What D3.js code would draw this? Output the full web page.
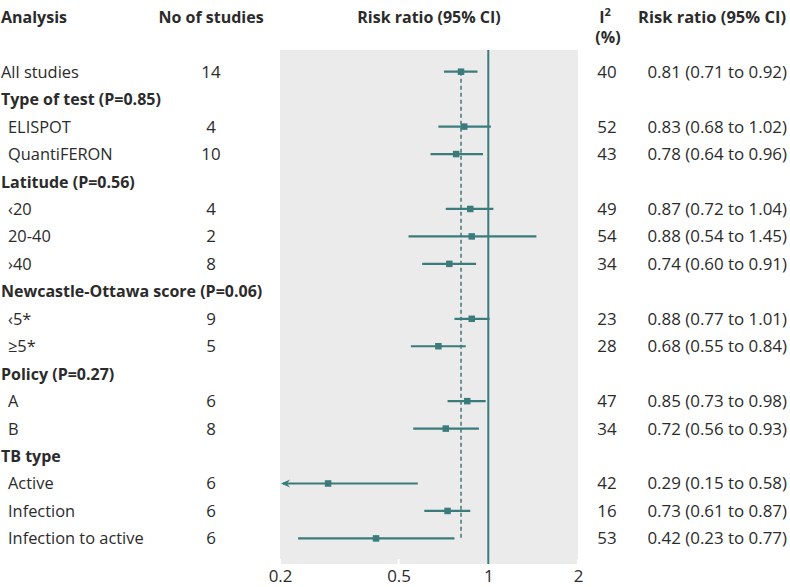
<!DOCTYPE html>
<html>
<head>
<meta charset="utf-8">
<script src="https://cdn.jsdelivr.net/npm/d3@7"></script>
<style>
  html, body { margin: 0; padding: 0; background: #fff; }
  svg { display: block; }
  text { font-family: "Open Sans", "Noto Sans", sans-serif; fill: #2b2b2b; }
</style>
</head>
<body>
<svg id="chart" width="790" height="587"></svg>
<script>
// ---- data ----
const labels = ["All studies", "Type of test (P=0.85)", "ELISPOT", "QuantiFERON",
  "Latitude (P=0.56)", "\u203920", "20-40", "\u203A40",
  "Newcastle-Ottawa score (P=0.06)", "\u20395*", "\u22655*",
  "Policy (P=0.27)", "A", "B", "TB type", "Active", "Infection", "Infection to active"];
const rowTypes = ["overall", "group", "sub", "sub", "group", "sub", "sub", "sub",
  "group", "sub", "sub", "group", "sub", "sub", "group", "sub", "sub", "sub"];
const nStudies = [14, null, 4, 10, null, 4, 2, 8, null, 9, 5, null, 6, 8, null, 6, 6, 6];
const i2 = [40, null, 52, 43, null, 49, 54, 34, null, 23, 28, null, 47, 34, null, 42, 16, 53];
const rr = [0.81, null, 0.83, 0.78, null, 0.87, 0.88, 0.74, null, 0.88, 0.68, null, 0.85, 0.72, null, 0.29, 0.73, 0.42];
const lo = [0.71, null, 0.68, 0.64, null, 0.72, 0.54, 0.60, null, 0.77, 0.55, null, 0.73, 0.56, null, 0.15, 0.61, 0.23];
const hi = [0.92, null, 1.02, 0.96, null, 1.04, 1.45, 0.91, null, 1.01, 0.84, null, 0.98, 0.93, null, 0.58, 0.87, 0.77];
const ticks = [0.2, 0.5, 1, 2];
const overallRR = 0.81;

// ---- layout ----
const teal = "#3b7b7b";
const svg = d3.select("#chart");
const fsReg = 16.4, fsBold = 16, fsNum = 16.9;

const x = d3.scaleLog().domain([0.2, 2]).range([280, 578]);
const y = d3.scaleLinear().domain([0, labels.length - 1]).range([71.7, 538.4]);
const panelTop = 50, panelBottom = 564;

// panel
svg.append("rect").attr("x", x(0.2)).attr("y", panelTop)
  .attr("width", x(2) - x(0.2)).attr("height", panelBottom - panelTop)
  .attr("fill", "#ebebeb");

// white tick marks inside bottom of panel
svg.selectAll("line.wtick").data(ticks).enter().append("line")
  .attr("x1", d => x(d)).attr("x2", d => x(d))
  .attr("y1", panelBottom - 5).attr("y2", panelBottom)
  .attr("stroke", "#fff").attr("stroke-width", 2);

// axis
const axis = d3.axisBottom(x).tickValues(ticks).tickFormat(d3.format("")).tickSize(0).tickPadding(6);
const ax = svg.append("g").attr("transform", `translate(0,${panelBottom})`).call(axis);
ax.select(".domain").remove();
ax.selectAll("text").style("font-family", '"Open Sans", sans-serif').style("font-size", fsNum + "px").attr("fill", "#2b2b2b");

// reference line at 1
svg.append("line").attr("x1", x(1)).attr("x2", x(1)).attr("y1", panelTop).attr("y2", panelBottom)
  .attr("stroke", teal).attr("stroke-width", 2);

// dashed overall line
svg.append("line").attr("x1", x(overallRR)).attr("x2", x(overallRR))
  .attr("y1", y(0)).attr("y2", y(labels.length - 1))
  .attr("stroke", "#3a6d6d").attr("stroke-width", 1.4).attr("stroke-dasharray", "4,3");

// rows data
const rows = labels.map((l, i) => ({ i, label: l, type: rowTypes[i], n: nStudies[i], i2: i2[i], rr: rr[i], lo: lo[i], hi: hi[i] }));
const est = rows.filter(d => d.rr != null);
const [dmin, dmax] = x.domain();

// CI lines
svg.selectAll("line.ci").data(est).enter().append("line")
  .attr("x1", d => x(Math.max(d.lo, dmin)) + (d.lo < dmin ? 3 : 0))
  .attr("x2", d => x(Math.min(d.hi, dmax)))
  .attr("y1", d => y(d.i)).attr("y2", d => y(d.i))
  .attr("stroke", teal).attr("stroke-width", 2.2);

// arrows for truncated CIs
svg.selectAll("path.arrow").data(est.filter(d => d.lo < dmin)).enter().append("path")
  .attr("d", d => {
    const ax0 = x(dmin) + 1, yy = y(d.i);
    return `M${ax0},${yy} L${ax0 + 9},${yy - 4} L${ax0 + 6},${yy} L${ax0 + 9},${yy + 4} Z`;
  })
  .attr("fill", teal);

// markers
svg.selectAll("rect.pt").data(est).enter().append("rect")
  .attr("x", d => x(d.rr) - 3.25).attr("y", d => y(d.i) - 3.25)
  .attr("width", 6.5).attr("height", 6.5).attr("fill", teal);

// headers
const hdr = svg.append("g").style("font-weight", "bold").style("font-size", fsBold + "px");
hdr.append("text").attr("x", 1).attr("y", 23).text("Analysis");
hdr.append("text").attr("x", 211).attr("y", 23).attr("text-anchor", "middle").text("No of studies");
hdr.append("text").attr("x", (x(0.2) + x(2)) / 2).attr("y", 23).attr("text-anchor", "middle").text("Risk ratio (95% CI)");
const i2t = hdr.append("text").attr("x", 605).attr("y", 23).attr("text-anchor", "middle");
i2t.append("tspan").text("I");
i2t.append("tspan").attr("dy", -7).style("font-size", "11px").text("2");
hdr.append("text").attr("x", 608).attr("y", 43).attr("text-anchor", "middle").text("(%)");
hdr.append("text").attr("x", 786).attr("y", 23).attr("text-anchor", "end").style("font-size", "16.5px").text("Risk ratio (95% CI)");

// row labels
const fmt = d3.format(".2f");
const g = svg.append("g").style("font-size", fsReg + "px");
g.selectAll("text.lab").data(rows).enter().append("text")
  .attr("x", d => d.type === "sub" ? 8 : 1)
  .attr("y", d => y(d.i) + 6)
  .style("font-weight", d => d.type === "group" ? "bold" : "normal")
  .style("font-size", d => (d.type === "group" ? fsBold : fsReg) + "px")
  .text(d => d.label);
g.selectAll("text.n").data(rows.filter(d => d.n != null)).enter().append("text")
  .attr("x", 211).attr("y", d => y(d.i) + 6).attr("text-anchor", "middle")
  .style("font-size", fsNum + "px")
  .text(d => d.n);
g.selectAll("text.i2").data(rows.filter(d => d.i2 != null)).enter().append("text")
  .attr("x", 607).attr("y", d => y(d.i) + 6).attr("text-anchor", "middle")
  .style("font-size", fsNum + "px")
  .text(d => d.i2);
g.selectAll("text.ci").data(est).enter().append("text")
  .attr("x", 787).attr("y", d => y(d.i) + 6).attr("text-anchor", "end")
  .style("font-size", fsNum + "px")
  .text(d => `${fmt(d.rr)} (${fmt(d.lo)} to ${fmt(d.hi)})`);
</script>
</body>
</html>
